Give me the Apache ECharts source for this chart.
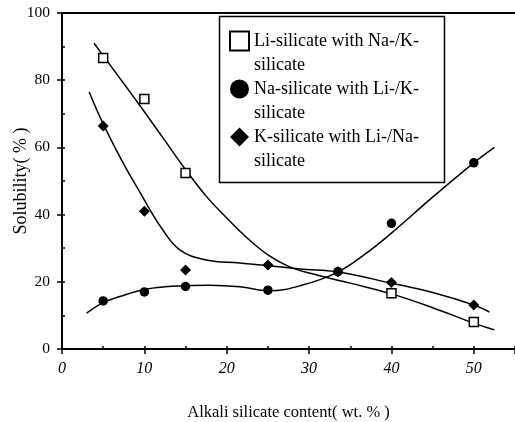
<!DOCTYPE html>
<html>
<head>
<meta charset="utf-8">
<script src="https://cdn.jsdelivr.net/npm/echarts@6/dist/echarts.min.js"></script>
<style>
  html, body { margin: 0; padding: 0; background: #fff; }
  #chart { width: 515px; height: 422px; }
</style>
</head>
<body>
<div id="chart"></div>
<script>
// measured points
const liPoints = [[5, 86.6], [10, 74.4], [15, 52.4], [40, 16.6], [50, 8]];
const naPoints = [[5, 14.3], [10, 17], [15, 18.6], [25, 17.5], [33.5, 23], [40, 37.4], [50, 55.4]];
const kPoints = [[5, 66.4], [10, 41], [15, 23.5], [25, 25], [33.5, 23], [40, 19.8], [50, 13.1]];

// fitted curves
const liCurve = [[3.9, 91], [5, 87.3], [7.5, 79], [10, 70.6], [12.5, 62], [15, 53.4], [17.5, 45.5],
  [20, 39], [22.5, 33], [25, 28], [27.5, 24.6], [30, 22.6], [35, 19.6], [40, 16.4], [45, 12.3],
  [50, 7.7], [52.5, 5.7]];
const naCurve = [[3, 10.7], [5, 13.8], [7.5, 16], [10, 17.7], [12.5, 18.5], [15, 18.8], [18, 19],
  [21.6, 18.5], [25.2, 17.3], [28.9, 18.8], [33.5, 22.9], [37, 28.6], [40, 34.5], [45, 45.2],
  [50, 55.4], [52.5, 60]];
const kCurve = [[3.3, 76.5], [5, 67], [7.5, 55], [9.5, 46.5], [12, 36.3], [14.3, 29.5], [17.5, 26.5],
  [21.6, 25.6], [25.2, 24.8], [28.9, 23.8], [33.5, 22.9], [40, 19.6], [45, 16.8], [50, 13.1],
  [51.9, 11]];

// leading blank line keeps the icon level with the first text line
const legendNames = [
  '\nLi-silicate with Na-/K-\nsilicate',
  '\nNa-silicate with Li-/K-\nsilicate',
  '\nK-silicate with Li-/Na-\nsilicate'
];

const serif = 'Liberation Serif';
const ink = '#000';

const chart = echarts.init(document.getElementById('chart'));

const curve = (data) => ({
  type: 'line',
  data: data,
  smooth: 0.4,
  symbol: 'none',
  silent: true,
  lineStyle: { color: ink, width: 1.5 },
  z: 2
});

chart.setOption({
  animation: false,
  grid: { left: 62, top: 13, right: 0, bottom: 73, containLabel: false, outerBoundsMode: 'none' },
  legend: {
    orient: 'vertical',
    left: 229,
    top: 5,
    padding: 0,
    itemGap: -24,
    itemWidth: 19,
    itemHeight: 19,
    selectedMode: false,
    z: 20,
    textStyle: { fontFamily: serif, fontSize: 18, color: ink, lineHeight: 24 },
    data: legendNames
  },
  graphic: [{
    type: 'rect',
    shape: { x: 219.5, y: 16.5, width: 225, height: 166 },
    style: { fill: '#fff', stroke: ink, lineWidth: 1.5 },
    z: 10
  }],
  xAxis: [{
    type: 'value', min: 0, max: 55, interval: 10,
    name: 'Alkali silicate content( wt. % )',
    nameLocation: 'middle', nameGap: 55,
    nameTextStyle: { fontFamily: serif, fontSize: 16.5, color: ink },
    axisLine: { lineStyle: { color: ink, width: 2 } },
    axisTick: { length: 5, lineStyle: { color: ink, width: 1.5 } },
    axisLabel: {
      margin: 12, fontFamily: serif, fontSize: 16, fontStyle: 'italic', color: ink,
      formatter: v => (v % 10 === 0 ? String(v) : '')
    },
    splitLine: { show: false }
  }, {
    type: 'value', min: 0, max: 55, interval: 5, position: 'bottom',
    axisLine: { show: false },
    axisTick: { inside: true, length: 3, lineStyle: { color: ink, width: 1.5 } },
    axisLabel: { show: false },
    splitLine: { show: false }
  }, {
    type: 'value', min: 0, max: 55, position: 'top',
    axisLine: { lineStyle: { color: ink, width: 2 } },
    axisTick: { show: false },
    axisLabel: { show: false },
    splitLine: { show: false }
  }],
  yAxis: [{
    type: 'value', min: 0, max: 100, interval: 20,
    name: 'Solubility( % )',
    nameLocation: 'middle', nameGap: 32, nameMoveOverlap: false,
    nameTextStyle: { fontFamily: serif, fontSize: 18, color: ink },
    axisLine: { lineStyle: { color: ink, width: 2 } },
    axisTick: { length: 5, lineStyle: { color: ink, width: 1.5 } },
    axisLabel: { margin: 12, fontFamily: serif, fontSize: 15.5, color: ink },
    splitLine: { show: false }
  }, {
    type: 'value', min: 0, max: 100, interval: 10, position: 'left',
    axisLine: { show: false },
    axisTick: { inside: true, length: 3, lineStyle: { color: ink, width: 1.5 } },
    axisLabel: { show: false },
    splitLine: { show: false }
  }],
  series: [
    curve(liCurve),
    curve(naCurve),
    curve(kCurve),
    {
      name: legendNames[0], type: 'scatter', data: liPoints,
      symbol: 'rect', symbolSize: 9,
      itemStyle: { color: '#fff', borderColor: ink, borderWidth: 1.5, opacity: 1 }, z: 5
    },
    {
      name: legendNames[1], type: 'scatter', data: naPoints,
      symbol: 'circle', symbolSize: 9.5,
      itemStyle: { color: ink, opacity: 1 }, z: 5
    },
    {
      name: legendNames[2], type: 'scatter', data: kPoints,
      symbol: 'diamond', symbolSize: 11,
      itemStyle: { color: ink, opacity: 1 }, z: 5
    }
  ]
});
</script>
</body>
</html>
